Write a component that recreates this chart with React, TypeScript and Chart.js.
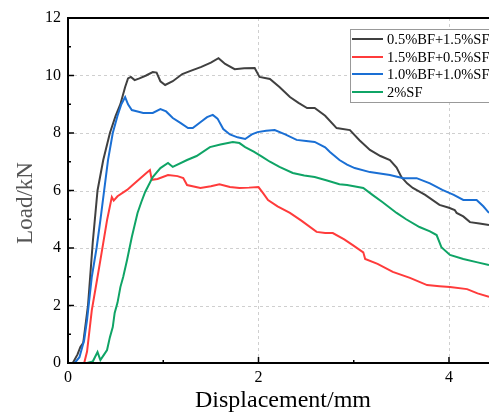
import React, { useEffect, useRef } from "react";
import { Chart, registerables } from "chart.js";

Chart.register(...registerables);

const seriesNames = ["0.5%BF+1.5%SF", "1.5%BF+0.5%SF", "1.0%BF+1.0%SF", "2%SF"];
const seriesColors = ["#404040", "#ff3b3b", "#1a6fd4", "#0fa466"];

const xTicks = [0, 1, 2, 3, 4];
const yTicks = [0, 1, 2, 3, 4, 5, 6, 7, 8, 9, 10, 11, 12];

const blackX = [0.05,0.10,0.13,0.16,0.21,0.26,0.31,0.37,0.44,0.50,0.55,0.60,0.63,0.66,0.70,0.75,0.82,0.89,0.93,0.97,1.02,1.10,1.20,1.28,1.40,1.50,1.58,1.65,1.75,1.85,1.96,2.01,2.12,2.22,2.33,2.42,2.51,2.59,2.70,2.82,2.96,3.06,3.17,3.28,3.38,3.45,3.50,3.56,3.62,3.75,3.90,4.00,4.06,4.08,4.15,4.22,4.32,4.42];
const blackY = [0,0.3,0.56,0.7,2.0,4.2,6.0,7.06,8.0,8.6,9.0,9.6,9.9,9.95,9.84,9.9,10.0,10.12,10.1,9.8,9.67,9.8,10.05,10.15,10.3,10.45,10.6,10.4,10.22,10.25,10.26,9.95,9.88,9.6,9.25,9.05,8.87,8.87,8.6,8.17,8.1,7.75,7.41,7.2,7.06,6.8,6.47,6.25,6.09,5.85,5.5,5.4,5.32,5.22,5.1,4.9,4.85,4.8];

const redX = [0.17,0.20,0.25,0.30,0.34,0.41,0.46,0.48,0.52,0.62,0.70,0.76,0.82,0.86,0.88,0.94,1.05,1.15,1.21,1.25,1.39,1.50,1.59,1.70,1.80,1.90,2.00,2.05,2.10,2.20,2.33,2.45,2.61,2.70,2.78,2.90,2.99,3.10,3.12,3.25,3.41,3.59,3.77,3.90,4.01,4.19,4.30,4.42];
const redY = [0,0.4,1.84,2.8,3.58,4.97,5.77,5.65,5.8,6.02,6.25,6.43,6.6,6.71,6.37,6.4,6.54,6.5,6.43,6.19,6.09,6.15,6.22,6.12,6.09,6.1,6.12,5.9,5.67,5.45,5.22,4.95,4.56,4.52,4.52,4.3,4.1,3.85,3.62,3.45,3.17,2.96,2.71,2.67,2.64,2.57,2.42,2.3];

const blueX = [0.07,0.12,0.17,0.20,0.25,0.30,0.34,0.42,0.47,0.52,0.56,0.60,0.63,0.67,0.73,0.79,0.89,0.97,1.03,1.10,1.18,1.26,1.31,1.40,1.46,1.52,1.57,1.63,1.70,1.78,1.86,1.93,1.99,2.08,2.17,2.28,2.40,2.50,2.59,2.70,2.75,2.85,2.93,3.01,3.17,3.38,3.52,3.66,3.80,3.93,4.05,4.15,4.29,4.36,4.42];
const blueY = [0,0.2,0.8,1.5,3.0,4.0,4.97,7.06,8.0,8.6,9.0,9.25,9.0,8.8,8.75,8.7,8.7,8.83,8.75,8.52,8.35,8.17,8.17,8.4,8.55,8.63,8.5,8.14,7.95,7.85,7.79,7.95,8.03,8.08,8.1,7.95,7.76,7.72,7.69,7.5,7.34,7.06,6.9,6.78,6.64,6.54,6.43,6.43,6.25,6.02,5.85,5.67,5.67,5.45,5.22];

const greenX = [0.10,0.20,0.26,0.31,0.34,0.38,0.41,0.44,0.47,0.49,0.52,0.55,0.58,0.62,0.67,0.73,0.77,0.81,0.89,0.97,1.05,1.10,1.25,1.35,1.49,1.60,1.73,1.80,1.86,1.95,2.04,2.12,2.22,2.36,2.48,2.59,2.72,2.85,2.93,3.10,3.20,3.30,3.45,3.55,3.69,3.80,3.87,3.92,4.01,4.15,4.30,4.42];
const greenY = [0,0,0.05,0.38,0.1,0.3,0.45,0.9,1.25,1.74,2.1,2.64,3.0,3.58,4.38,5.22,5.6,5.95,6.47,6.78,6.96,6.82,7.06,7.2,7.51,7.6,7.69,7.65,7.51,7.35,7.17,7.0,6.82,6.61,6.52,6.47,6.35,6.22,6.19,6.09,5.84,5.6,5.22,5.0,4.73,4.58,4.45,4.03,3.76,3.62,3.5,3.41];

const xTitle = "Displacement/mm";
const yTitle = "Load/kN";

const FONT = "'Liberation Serif', 'Times New Roman', serif";

function pts(xs: number[], ys: number[]) {
  return xs.map((x, i) => ({ x, y: ys[i] }));
}

const framePlugin = {
  id: "frame",
  beforeDatasetsDraw(chart: any) {
    const { ctx, chartArea: a, scales } = chart;
    ctx.save();
    ctx.strokeStyle = "#cfcfcf";
    ctx.lineWidth = 1;
    ctx.setLineDash([3, 3]);
    [2, 4].forEach((v) => {
      const px = Math.round(scales.x.getPixelForValue(v)) + 0.5;
      ctx.beginPath();
      ctx.moveTo(px, a.top);
      ctx.lineTo(px, a.bottom);
      ctx.stroke();
    });
    [2, 4, 6, 8, 10].forEach((v) => {
      const py = Math.round(scales.y.getPixelForValue(v)) + 0.5;
      ctx.beginPath();
      ctx.moveTo(a.left, py);
      ctx.lineTo(a.right, py);
      ctx.stroke();
    });
    ctx.restore();
  },
  afterDatasetsDraw(chart: any) {
    const { ctx, chartArea: a, scales } = chart;
    ctx.save();
    ctx.strokeStyle = "#000";
    ctx.lineWidth = 2;
    ctx.beginPath();
    ctx.moveTo(a.right + 2, a.top);
    ctx.lineTo(a.left, a.top);
    ctx.lineTo(a.left, a.bottom);
    ctx.lineTo(a.right + 2, a.bottom);
    ctx.stroke();
    ctx.lineWidth = 1.5;
    xTicks.forEach((v) => {
      const px = scales.x.getPixelForValue(v);
      const len = v % 2 === 0 ? 6 : 3;
      ctx.beginPath();
      ctx.moveTo(px, a.bottom);
      ctx.lineTo(px, a.bottom - len);
      ctx.stroke();
    });
    yTicks.forEach((v) => {
      const py = scales.y.getPixelForValue(v);
      const len = v % 2 === 0 ? 6 : 3;
      ctx.beginPath();
      ctx.moveTo(a.left, py);
      ctx.lineTo(a.left + len, py);
      ctx.stroke();
    });
    ctx.restore();
  },
  afterDraw(chart: any) {
    const { ctx } = chart;
    ctx.save();
    ctx.fillStyle = "#000";
    ctx.font = `24px ${FONT}`;
    ctx.textAlign = "center";
    ctx.textBaseline = "alphabetic";
    ctx.fillText(xTitle, 283, 407);
    ctx.save();
    ctx.translate(32, 203);
    ctx.rotate(-Math.PI / 2);
    ctx.font = `23px ${FONT}`;
    ctx.fillStyle = "#555";
    ctx.fillText(yTitle, 0, 0);
    ctx.restore();
    ctx.fillStyle = "#fff";
    ctx.fillRect(350.5, 29.5, 160, 73);
    ctx.strokeStyle = "#999";
    ctx.lineWidth = 1;
    ctx.strokeRect(350.5, 29.5, 160, 73);
    const rows = [39, 57, 74, 92];
    seriesNames.forEach((name, i) => {
      ctx.strokeStyle = seriesColors[i];
      ctx.lineWidth = 2;
      ctx.beginPath();
      ctx.moveTo(352, rows[i]);
      ctx.lineTo(383, rows[i]);
      ctx.stroke();
      ctx.fillStyle = "#000";
      ctx.font = `14.5px ${FONT}`;
      ctx.textAlign = "left";
      ctx.textBaseline = "middle";
      ctx.fillText(name, 387, rows[i] + 1);
    });
    ctx.restore();
  },
};

export default function App() {
  const ref = useRef<HTMLCanvasElement | null>(null);
  useEffect(() => {
    if (!ref.current) return;
    const mk = (xs: number[], ys: number[], i: number) => ({
      label: seriesNames[i],
      data: pts(xs, ys),
      borderColor: seriesColors[i],
      backgroundColor: seriesColors[i],
      borderWidth: 2,
      pointRadius: 0,
      showLine: true,
      tension: 0,
    });
    const chart = new Chart(ref.current, {
      type: "scatter",
      data: {
        datasets: [
          mk(greenX, greenY, 3),
          mk(redX, redY, 1),
          mk(blueX, blueY, 2),
          mk(blackX, blackY, 0),
        ],
      },
      options: {
        animation: false,
        responsive: false,
        maintainAspectRatio: false,
        layout: { padding: { top: 18, right: 0, left: 0, bottom: 0 } },
        plugins: { legend: { display: false }, tooltip: { enabled: false } },
        scales: {
          x: {
            type: "linear",
            min: 0,
            max: 4.42,
            afterBuildTicks: (s: any) => {
              s.ticks = xTicks.map((v) => ({ value: v }));
            },
            afterFit: (s: any) => {
              s.height = 51;
            },
            grid: { display: false, drawTicks: false },
            border: { display: false },
            ticks: {
              padding: 5,
              color: "#000",
              font: { family: FONT, size: 16 },
              callback: (v: any) => (Number(v) % 2 === 0 ? String(v) : ""),
            },
          },
          y: {
            type: "linear",
            min: 0,
            max: 12,
            afterBuildTicks: (s: any) => {
              s.ticks = yTicks.map((v) => ({ value: v }));
            },
            afterFit: (s: any) => {
              s.width = 68;
            },
            grid: { display: false, drawTicks: false },
            border: { display: false },
            ticks: {
              padding: 7,
              color: "#000",
              font: { family: FONT, size: 16 },
              callback: (v: any) => (Number(v) % 2 === 0 ? String(v) : ""),
            },
          },
        },
      },
      plugins: [framePlugin],
    });
    return () => chart.destroy();
  }, []);
  return (
    <div style={{ position: "fixed", left: 0, top: 0, width: 489, height: 414, background: "#fff" }}>
      <canvas ref={ref} width={489} height={414} style={{ width: 489, height: 414, display: "block" }} />
    </div>
  );
}
